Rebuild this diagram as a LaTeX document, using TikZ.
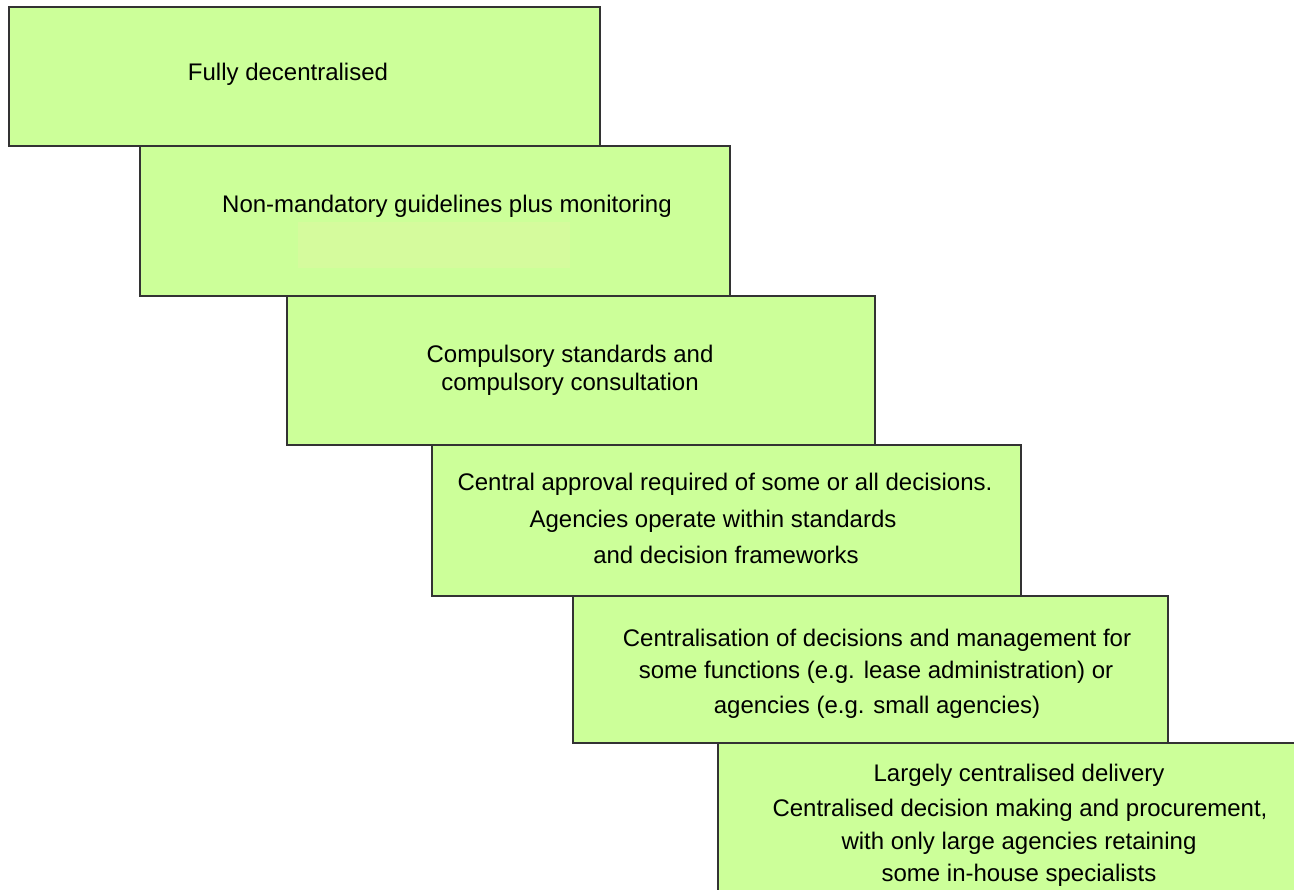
\documentclass[tikz,border=0pt]{standalone}
\usepackage{fontspec}
\setmainfont{Liberation Sans}
\definecolor{stepgreen}{HTML}{CCFF99}
\definecolor{patchgreen}{HTML}{D5FB9D}

\begin{document}
\begin{tikzpicture}
        [
          x=1pt,y=-1pt,
          stepbox/.style={draw=black!80,line width=1.3pt,fill=stepgreen},
          label/.style={font=\fontsize{24}{28}\selectfont,inner sep=0pt,
            text height=17pt,text depth=5pt}
        ]
        \useasboundingbox (0,0) rectangle (1294,890);
        % steps
        \draw [stepbox] (9,7) rectangle (600,146);
        \draw [stepbox] (140,146) rectangle (730,296);
        \fill [patchgreen] (298,222) rectangle (570,268);
        \draw [stepbox] (287,296) rectangle (875,445);
        \draw [stepbox] (432,445) rectangle (1021,596);
        \draw [stepbox] (573,596) rectangle (1168,743);
        \draw [stepbox] (718,743) rectangle (1300,896);
        % labels
        \node [label] (full) at (288,75) {Fully decentralised};
        \node [label] (guide) at (447,207) {Non-mandatory guidelines plus monitoring};
        \node [label] (comp1) at (570,357) {Compulsory standards and};
        \node [label] (comp2) at (570,385) {compulsory consultation};
        \node [label] (appr1) at (725,485) {Central approval required of some or all decisions.};
        \node [label] (appr2) at (713,521) {Agencies operate within standards};
        \node [label] (appr3) at (726,557) {and decision frameworks};
        \node [label] (cent1) at (877,640) {Centralisation of decisions and management for};
        \node [label] (cent2) at (876,672) {some functions (e.g. lease administration) or};
        \node [label] (cent3) at (877,707) {agencies (e.g. small agencies)};
        \node [label] (deliv1) at (1019,775) {Largely centralised delivery};
        \node [label] (deliv2) at (1020,810) {Centralised decision making and procurement,};
        \node [label] (deliv3) at (1019,843) {with only large agencies retaining};
        \node [label] (deliv4) at (1019,875) {some in-house specialists};
\end{tikzpicture}
\end{document}
